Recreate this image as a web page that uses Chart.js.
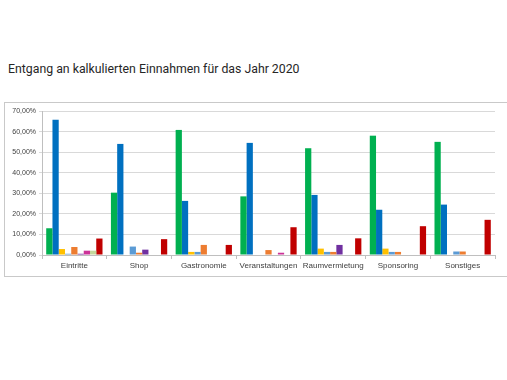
<!DOCTYPE html>
<html><head><meta charset="utf-8">
<script src="https://cdn.jsdelivr.net/npm/chart.js@4/dist/chart.umd.min.js"></script>
<style>
html,body{margin:0;padding:0;background:#fff;width:507px;height:380px;overflow:hidden;}
#title{position:absolute;left:8px;top:62px;font-family:Roboto,"Noto Sans",sans-serif;font-size:12.3px;color:#262626;white-space:nowrap;}
#box{position:absolute;left:4px;top:102px;width:520px;height:173px;border:1px solid #c9c9c9;}
#wrap{position:absolute;left:0;top:0;width:507px;height:380px;}
</style></head>
<body>
<div id="title">Entgang an kalkulierten Einnahmen für das Jahr 2020</div>
<div id="box"></div>
<div id="wrap"><canvas id="c" width="507" height="380"></canvas></div>
<script>
const categories = ["Eintritte","Shop","Gastronomie","Veranstaltungen","Raumvermietung","Sponsoring","Sonstiges"];
const yTicks = [0,10,20,30,40,50,60,70];
const s1 = [13.0, 30.3, 60.8, 28.5, 51.9, 58.0, 55.0];
const s2 = [65.7, 54.0, 26.3, 54.5, 29.2, 22.0, 24.5];
const s3 = [2.9, 0, 1.5, 0, 3.1, 3.1, 0];
const s4 = [0.6, 4.1, 1.5, 0, 1.5, 1.5, 1.7];
const s5 = [3.9, 1.1, 4.9, 2.4, 1.5, 1.5, 1.7];
const s6 = [0.6, 2.6, 0, 0, 4.9, 0, 0];
const s7 = [2.1, 0, 0, 1.1, 0, 0, 0];
const s8 = [2.1, 0, 0, 0, 0, 0, 0];
const s9 = [8.0, 7.7, 4.9, 13.5, 8.1, 14.0, 17.1];
const seriesNames = ["Reihe 1","Reihe 2","Reihe 3","Reihe 4","Reihe 5","Reihe 6","Reihe 7","Reihe 8","Reihe 9"];
const seriesValues = [s1,s2,s3,s4,s5,s6,s7,s8,s9];
const colors = ["#00B050","#0070C0","#FFC000","#5B9BD5","#ED7D31","#7030A0","#CC3399","#C4D79B","#C00000"];

new Chart(document.getElementById('c'), {
  type: 'bar',
  data: {
    labels: categories,
    datasets: seriesValues.map((v,i)=>({label:seriesNames[i], data:v, backgroundColor:colors[i], borderWidth:0}))
  },
  options: {
    responsive:false, animation:false,
    categoryPercentage:0.87, barPercentage:1,
    layout:{padding:{left:0,right:12,top:111,bottom:105}},
    plugins:{legend:{display:false}, title:{display:false}, tooltip:{enabled:false}},
    scales:{
      x:{
        grid:{offset:true, drawOnChartArea:false, drawTicks:true, tickLength:4, color:'#bfbfbf'},
        border:{display:true, color:'#bfbfbf'},
        ticks:{font:{family:'"Liberation Sans", sans-serif', size:8}, color:'#404040', maxRotation:0, minRotation:0, autoSkip:false, padding:2},
        afterFit:s=>{s.height=20;}
      },
      y:{
        min:0, max:70,
        afterBuildTicks:s=>{s.ticks = yTicks.map(v=>({value:v}));},
        grid:{color:'#d9d9d9', tickLength:3, lineWidth:1},
        border:{display:true, color:'#bfbfbf'},
        ticks:{font:{family:'"Liberation Sans", sans-serif', size:7}, color:'#404040', padding:3,
          callback:v=>v.toFixed(2).replace('.',',')+'%'},
        afterFit:s=>{s.width=42;}
      }
    }
  }
});
</script>
</body></html>
